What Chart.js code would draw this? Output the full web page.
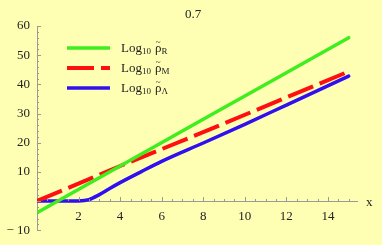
<!DOCTYPE html>
<html>
<head>
<meta charset="utf-8">
<script src="https://cdn.jsdelivr.net/npm/chart.js@4.4.0/dist/chart.umd.min.js"></script>
<style>
  html, body { margin: 0; padding: 0; background: #ffffb4; }
  #wrap { width: 382px; height: 245px; }
</style>
</head>
<body>
<div id="wrap"><canvas id="c"></canvas></div>
<script>
// values
const xTicks = [0, 2, 4, 6, 8, 10, 12, 14]
const yTicks = [-10, 0, 10, 20, 30, 40, 50, 60]

const rhoR = [{x: 0, y: -4}, {x: 4, y: 12}, {x: 8, y: 28}, {x: 12, y: 44}, {x: 15, y: 56}]
const rhoM = [{x: 0, y: 0}, {x: 4, y: 12}, {x: 8, y: 23.6}, {x: 12, y: 35.5}, {x: 15, y: 44.4}]
const rhoA = [
    {x: 0, y: 0}, {x: 1, y: 0}, {x: 2, y: 0.05}, {x: 2.5, y: 0.5}, {x: 3, y: 2.2},
    {x: 3.5, y: 4.3}, {x: 4, y: 6.3}, {x: 5, y: 10}, {x: 6, y: 13.6}, {x: 8, y: 19.9},
    {x: 10, y: 26.3}, {x: 12, y: 32.9}, {x: 15, y: 42.8}
]

const legendItems = [
    {sub: 'R', color: '#40ee20', dash: []},
    {sub: 'M', color: '#ff1010', dash: [27, 7]},
    {sub: 'Λ', color: '#3010ee', dash: []}
]

const serif = '"Liberation Serif", "DejaVu Serif", serif'
const axisColor = '#999'

const extras = {
    id: 'extras',
    afterDraw (chart) {
        const ctx = chart.ctx, xs = chart.scales.x, ys = chart.scales.y
        const x0 = xs.getPixelForValue(0), y0 = ys.getPixelForValue(0)
        ctx.save()
        // inward ticks
        ctx.strokeStyle = axisColor
        ctx.lineWidth = 1
        ctx.beginPath()
        for (let v = -10; v <= 60; v += 2) {
            const p = Math.round(ys.getPixelForValue(v)) + 0.5
            const len = v % 10 === 0 ? 4 : 2
            ctx.moveTo(x0, p); ctx.lineTo(x0 + len, p)
        }
        for (let v = 0.5; v <= 15; v += 0.5) {
            const p = Math.round(xs.getPixelForValue(v)) + 0.5
            const len = v % 2 === 0 ? 4 : 2
            ctx.moveTo(p, y0); ctx.lineTo(p, y0 - len)
        }
        ctx.stroke()

        // title and axis label
        ctx.fillStyle = '#222'
        ctx.font = '13px ' + serif
        ctx.textAlign = 'center'
        ctx.textBaseline = 'middle'
        ctx.fillText('0.7', chart.width / 2 + 2, 15)
        ctx.textAlign = 'left'
        ctx.fillText('x', 366, y0 + 2)

        // legend
        legendItems.forEach((it, i) => {
            const ly = 48 + i * 20
            ctx.strokeStyle = it.color
            ctx.lineWidth = i === 1 ? 4 : 3.5
            ctx.setLineDash(it.dash)
            ctx.beginPath()
            ctx.moveTo(67, ly); ctx.lineTo(110, ly)
            ctx.stroke()
            ctx.setLineDash([])

            let tx = 121
            const base = ly + 4
            ctx.fillStyle = '#222'
            ctx.textAlign = 'left'
            ctx.textBaseline = 'alphabetic'
            ctx.font = '13px ' + serif
            ctx.fillText('Log', tx, base)
            tx += ctx.measureText('Log').width
            ctx.font = '9px ' + serif
            ctx.fillText('10', tx, base + 2)
            tx += ctx.measureText('10').width + 4
            ctx.font = '13px ' + serif
            ctx.fillText('ρ', tx, base)
            const rw = ctx.measureText('ρ').width
            ctx.textAlign = 'center'
            ctx.font = '9px ' + serif
            ctx.fillText('~', tx + rw / 2, base - 7)
            ctx.textAlign = 'left'
            tx += rw
            ctx.font = '9px ' + serif
            ctx.fillText(it.sub, tx, base + 2)
        })
        ctx.restore()
    }
}

new Chart(document.getElementById('c'), {
    type: 'line',
    data: {
        datasets: [
            {data: rhoR, borderColor: '#40ee20', borderWidth: 3.5, pointRadius: 0, tension: 0, borderCapStyle: 'round'},
            {data: rhoM, borderColor: '#ff1010', borderWidth: 4, pointRadius: 0, tension: 0, borderDash: [27, 7]},
            {data: rhoA, borderColor: '#3010ee', borderWidth: 3.5, pointRadius: 0, cubicInterpolationMode: 'monotone', borderCapStyle: 'round'}
        ]
    },
    options: {
        responsive: true,
        maintainAspectRatio: false,
        animation: false,
        layout: {padding: {top: 26, bottom: 9, right: 25, left: 0}},
        plugins: {legend: {display: false}, tooltip: {enabled: false}},
        scales: {
            x: {
                type: 'linear',
                position: {y: 0},
                min: 0,
                max: 15.4,
                afterFit: s => { s.height = 0 },
                afterBuildTicks: s => { s.ticks = xTicks.map(v => ({value: v})) },
                grid: {display: true, drawOnChartArea: false, drawTicks: false},
                border: {display: true, color: axisColor, width: 1},
                ticks: {
                    padding: 8,
                    color: '#222',
                    font: {family: serif, size: 13},
                    maxRotation: 0,
                    autoSkip: false,
                    callback: v => v === 0 ? '' : String(v)
                }
            },
            y: {
                type: 'linear',
                position: 'left',
                min: -10,
                max: 60,
                afterFit: s => { s.width = 37 },
                afterBuildTicks: s => { s.ticks = yTicks.map(v => ({value: v})) },
                grid: {display: true, drawOnChartArea: false, drawTicks: false},
                border: {display: true, color: axisColor, width: 1},
                ticks: {
                    padding: 7,
                    color: '#222',
                    font: {family: serif, size: 13},
                    autoSkip: false,
                    callback: v => v === 0 ? '' : (v < 0 ? '\u2212 ' + Math.abs(v) : String(v))
                }
            }
        }
    },
    plugins: [extras]
})
</script>
</body>
</html>
